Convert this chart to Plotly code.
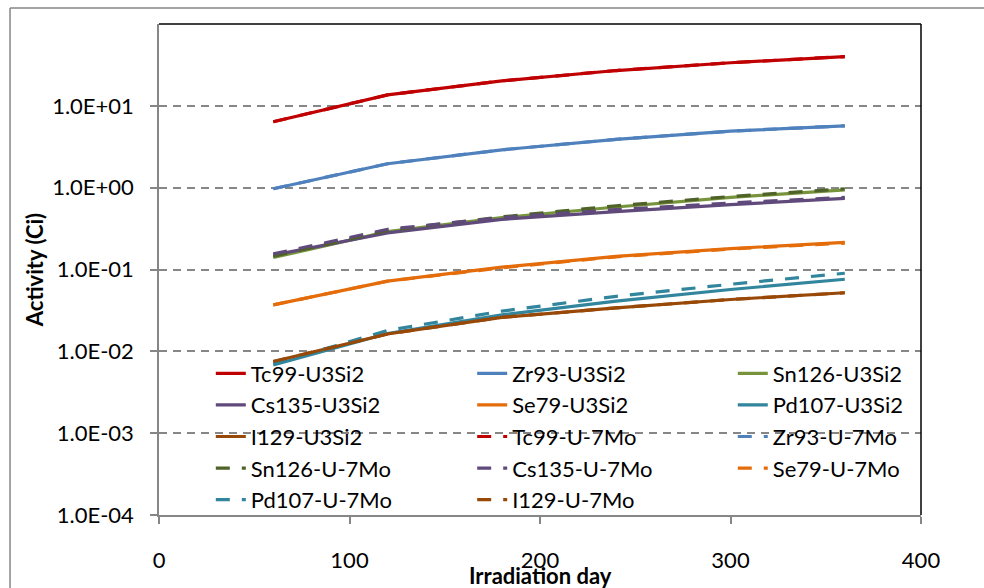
import plotly.graph_objects as go

days = [60, 120, 180, 240, 300, 360]

series_names = [
    "Tc99-U3Si2", "Zr93-U3Si2", "Sn126-U3Si2", "Cs135-U3Si2", "Se79-U3Si2",
    "Pd107-U3Si2", "I129-U3Si2", "Tc99-U-7Mo", "Zr93-U-7Mo", "Sn126-U-7Mo",
    "Cs135-U-7Mo", "Se79-U-7Mo", "Pd107-U-7Mo", "I129-U-7Mo",
]

tc99_u3si2 = [6.4, 13.6, 20.2, 27.0, 33.6, 40.0]
zr93_u3si2 = [0.97, 1.96, 2.9, 3.9, 4.9, 5.7]
sn126_u3si2 = [0.14, 0.29, 0.43, 0.58, 0.76, 0.94]
cs135_u3si2 = [0.15, 0.28, 0.41, 0.51, 0.62, 0.74]
se79_u3si2 = [0.037, 0.072, 0.107, 0.145, 0.18, 0.215]
pd107_u3si2 = [0.0068, 0.0165, 0.028, 0.041, 0.057, 0.076]
i129_u3si2 = [0.0075, 0.0163, 0.026, 0.034, 0.043, 0.052]
tc99_u7mo = [6.4, 13.6, 20.2, 27.0, 33.6, 40.0]
zr93_u7mo = [0.97, 1.96, 2.9, 3.9, 4.9, 5.7]
sn126_u7mo = [0.145, 0.30, 0.44, 0.60, 0.78, 0.97]
cs135_u7mo = [0.155, 0.31, 0.43, 0.54, 0.65, 0.76]
se79_u7mo = [0.037, 0.072, 0.105, 0.143, 0.178, 0.21]
pd107_u7mo = [0.007, 0.018, 0.031, 0.047, 0.066, 0.09]
i129_u7mo = [0.0075, 0.0163, 0.026, 0.034, 0.043, 0.052]

series_values = [
    tc99_u3si2, zr93_u3si2, sn126_u3si2, cs135_u3si2, se79_u3si2,
    pd107_u3si2, i129_u3si2, tc99_u7mo, zr93_u7mo, sn126_u7mo,
    cs135_u7mo, se79_u7mo, pd107_u7mo, i129_u7mo,
]

colors = [
    "#C00000", "#4F81BD", "#77933C", "#604A7B", "#E46C0A", "#31859C", "#984807",
    "#C00000", "#4F81BD", "#4F6228", "#604A7B", "#E46C0A", "#31859C", "#984807",
]
dashes = ["solid"] * 7 + ["14px,12px"] * 7

y_tickvals = [1e-4, 1e-3, 1e-2, 1e-1, 1e0, 1e1]
y_ticktext = ["1.0E-04", "1.0E-03", "1.0E-02", "1.0E-01", "1.0E+00", "1.0E+01"]

x_title = "Irradiation day"
y_title = "Activity (Ci)"

FONT = "Lato"
GRAY = "#868686"

legend_ids = ["legend", "legend2", "legend3"]

fig = go.Figure()
for i, (name, vals) in enumerate(zip(series_names, series_values)):
    fig.add_trace(go.Scatter(
        x=days, y=vals, mode="lines", name=name,
        line=dict(color=colors[i], width=3.2, dash=dashes[i]),
        legend=legend_ids[i % 3],
        legendgroup="g%d" % i,
        legendrank=i + 1,
    ))

legend_common = dict(
    orientation="v", yanchor="top", xanchor="left",
    bgcolor="rgba(0,0,0,0)",
    font=dict(family=FONT, size=22, color="black"),
    tracegroupgap=3, traceorder="normal",
    borderwidth=0,
)
legend_y = 0.331

fig.update_layout(
    width=984, height=588,
    margin=dict(l=159, r=63, t=24, b=73),
    paper_bgcolor="white", plot_bgcolor="white",
    font=dict(family=FONT, size=21, color="black"),
    showlegend=True,
    legend=dict(x=0.068, y=legend_y, **legend_common),
    legend2=dict(x=0.411, y=legend_y, **legend_common),
    legend3=dict(x=0.753, y=legend_y, **legend_common),
    xaxis=dict(
        range=[0, 400], dtick=100, tick0=0,
        showgrid=False, zeroline=False, automargin=False,
        showline=True, linecolor=GRAY, linewidth=1.5,
        ticks="outside", ticklen=7, tickcolor=GRAY, tickwidth=1.5,
        tickfont=dict(family=FONT, size=22),
        ticklabelstandoff=18,
    ),
    yaxis=dict(
        type="log", range=[-4, 2], automargin=False,
        tickvals=y_tickvals, ticktext=y_ticktext,
        showgrid=True, gridcolor=GRAY, gridwidth=1.5, griddash="8px,6px",
        zeroline=False,
        showline=True, linecolor=GRAY, linewidth=1.5,
        ticks="outside", ticklen=7, tickcolor=GRAY, tickwidth=1.5,
        tickfont=dict(family=FONT, size=22),
        ticklabelstandoff=12,
        title=dict(text="<b>%s</b>" % y_title, font=dict(family=FONT, size=22), standoff=2),
    ),
    annotations=[
        dict(text="<b>%s</b>" % x_title, xref="paper", yref="paper", x=0.5, y=0,
             xanchor="center", yanchor="middle", yshift=-60, showarrow=False,
             font=dict(family=FONT, size=22, color="black")),
    ],
    shapes=[
        dict(type="line", xref="paper", yref="paper", x0=0, x1=1, y0=1, y1=1,
             line=dict(color="black", width=1.5)),
        dict(type="line", xref="paper", yref="paper", x0=1, x1=1, y0=0, y1=1,
             line=dict(color="black", width=1.5)),
        dict(type="line", xref="paper", yref="paper", x0=-0.1955, x1=1.2, y0=1.0326, y1=1.0326,
             line=dict(color=GRAY, width=1.5)),
        dict(type="line", xref="paper", yref="paper", x0=-0.1955, x1=-0.1955, y0=-0.2, y1=1.0326,
             line=dict(color=GRAY, width=1.5)),
    ],
)

fig.write_html("out.html")
